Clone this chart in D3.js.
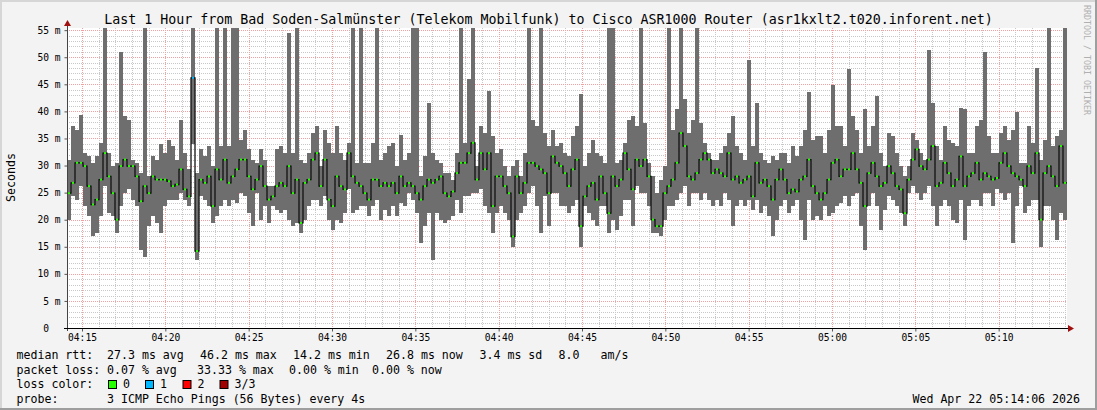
<!DOCTYPE html>
<html><head><meta charset="utf-8">
<script src="https://cdn.jsdelivr.net/npm/d3@7/dist/d3.min.js"></script>
<style>
body{margin:0;background:#f3f3f3;}
svg{display:block;}
text{font-family:"DejaVu Sans Mono",monospace;fill:#000;}
</style>
</head><body>
<svg id="chart" width="1097" height="410"></svg>
<script>
// ---------------- data ----------------
const titleText = "Last 1 Hour from Bad Soden-Salmünster (Telekom Mobilfunk) to Cisco ASR1000 Router (asr1kxlt2.t020.inforent.net)";
const yAxisTitle = "Seconds";
const sideText = "RRDTOOL / TOBI OETIKER";
const startTime = new Date(2026, 3, 22, 4, 14, 6);
const endTime = new Date(2026, 3, 22, 5, 14, 6);
const stepSeconds = 14.4;
const yMax = 55.4;

const yTicks = [0, 5, 10, 15, 20, 25, 30, 35, 40, 45, 50, 55];
const yTickLabels = ["0  ", "5 m", "10 m", "15 m", "20 m", "25 m", "30 m", "35 m", "40 m", "45 m", "50 m", "55 m"];
const xTickLabels = ["04:15", "04:20", "04:25", "04:30", "04:35", "04:40", "04:45", "04:50", "04:55", "05:00", "05:05", "05:10"];

// smoke upper edge (max ping, ms)
const smokeHigh = [
31.1,37.3,36.6,39.4,32.3,31.7,30.5,31.7,34.2,60,
32.3,29.9,30.5,50.9,39.1,38.5,31.1,30.5,28.6,60,
28.0,31.7,31.1,33.9,32.3,34.8,33.6,31.1,38.5,32.3,
29.3,60,28.6,33.0,31.7,33.6,29.9,60,33.6,60,
33.6,60,60,34.8,36.6,33.0,31.1,30.5,33.0,31.1,
26.2,26.2,33.0,33.6,32.3,54.5,32.3,60,31.1,30.5,
32.3,36.0,37.3,29.9,
36.6,34.2,32.3,37.3,32.3,31.1,34.2,60,30.5,60,
30.5,30.5,34.2,60,31.1,32.3,33.6,34.2,29.9,35.7,
31.1,32.3,60,60,28.0,31.7,41.6,32.3,31.1,30.5,
28.6,28.6,27.4,32.3,60,34.2,45.9,60,29.9,37.3,
36.0,43.8,35.4,32.3,33.0,29.9,28.0,29.9,31.1,28.0,
32.3,60,38.5,37.3,60,36.0,33.6,36.6,33.6,34.2,
32.3,31.7,
35.4,37.3,43.3,29.9,32.3,34.8,32.3,31.7,30.5,60,
60,30.5,31.1,34.2,38.5,39.1,37.3,60,37.9,30.5,
28.0,24.9,27.4,29.9,60,36.6,40.4,60,42.2,36.0,
38.5,60,37.9,34.2,32.3,31.1,31.1,32.3,33.6,36.0,
39.1,33.6,32.3,31.1,49.5,33.6,41.6,32.3,31.1,30.5,
31.7,31.1,32.3,32.3,30.5,33.6,31.7,33.6,36.6,43.5,
34.8,35.4,
35.4,32.3,36.6,44.9,37.3,37.3,33.6,47.8,39.1,36.6,
32.3,40.4,33.6,37.3,42.8,32.3,29.9,36.0,35.4,32.3,
29.9,28.0,29.9,36.0,34.8,32.3,31.1,51.3,41.6,33.6,
31.1,37.3,34.8,34.2,33.6,40.7,40.4,32.3,32.3,37.3,
38.5,50.9,35.4,32.3,32.3,36.0,37.3,34.8,36.6,39.8,
30.5,30.5,37.3,34.2,48.1,31.1,34.8,60,33.6,35.4,
36.6,60
];

// smoke lower edge (min ping, ms)
const smokeLow = [
20.0,24.3,23.7,26.2,22.5,20.6,16.9,17.5,20.6,26.2,
21.2,20.6,17.5,22.5,24.9,25.6,23.7,22.5,14.4,13.2,
18.8,20.6,19.4,17.5,22.5,23.7,23.7,23.7,24.9,23.7,
22.5,34.0,12.6,24.3,23.7,22.5,19.4,20.6,22.5,23.7,
22.5,23.7,23.1,24.9,24.3,21.2,18.8,24.9,20.0,22.5,
19.4,22.5,21.8,21.2,21.8,20.0,18.8,19.4,17.5,20.0,
22.5,23.7,23.7,22.5,
24.3,20.0,18.1,20.0,19.4,21.2,25.6,21.2,21.8,22.5,
22.5,20.6,22.5,23.7,20.0,21.8,20.6,22.5,20.6,23.1,
22.5,24.9,23.7,21.2,15.7,18.8,21.2,12.6,21.2,20.0,
19.4,20.0,20.6,23.7,21.2,24.3,24.3,24.9,24.9,25.6,
22.5,21.2,17.5,21.2,22.5,21.2,20.0,15.0,20.0,21.2,
22.5,24.9,26.2,22.5,17.5,24.3,18.8,24.9,24.9,22.5,
22.5,21.2,
22.5,23.7,15.0,22.5,21.2,20.0,18.8,22.5,22.5,17.5,
20.0,18.1,20.6,23.7,23.7,18.8,26.2,24.9,24.9,22.5,
17.5,17.5,16.9,20.0,22.5,22.5,23.7,24.9,26.2,22.5,
24.9,24.9,23.7,24.9,23.7,22.5,23.7,22.5,24.9,23.7,
18.8,22.5,23.7,22.5,23.7,21.8,23.7,21.2,22.5,20.6,
16.9,20.0,22.5,23.7,21.2,22.5,23.7,20.0,16.3,23.7,
20.0,20.6,
20.0,22.5,20.6,21.2,22.5,23.1,24.3,22.5,24.3,24.9,
18.8,14.4,22.5,24.9,22.5,18.1,21.8,24.3,23.7,22.5,
21.2,18.8,24.9,26.2,24.9,23.7,24.9,26.2,22.5,18.8,
22.5,23.7,22.5,20.0,19.4,23.7,16.3,22.5,23.7,23.7,
22.5,24.9,24.9,22.5,25.6,24.9,23.7,24.9,15.7,22.5,
26.2,21.2,22.5,23.7,23.7,15.0,22.5,22.5,20.0,16.3,
21.2,20.0
];

// median rtt (ms)
const medianRtt = [
24.9,26.8,30.5,30.5,29.9,26.2,22.8,23.7,27.4,32.3,
28.0,24.9,20.0,29.9,31.1,29.9,29.9,28.0,23.4,26.2,
24.9,28.0,27.4,27.4,27.4,27.1,26.2,26.5,29.3,25.6,
24.3,46.2,14.2,27.4,26.8,28.0,22.5,29.3,27.4,31.1,
26.8,28.0,29.3,31.1,31.1,28.0,25.6,27.4,29.9,26.2,
23.7,24.3,26.2,26.8,26.2,29.9,24.9,27.4,19.4,26.8,
27.4,31.1,32.3,26.2,
31.1,23.7,22.5,28.0,26.2,25.6,32.3,28.0,26.8,26.2,
24.9,23.7,27.4,27.4,26.2,26.8,26.2,26.8,24.9,28.0,
26.2,26.8,26.2,24.9,23.7,26.2,27.4,26.8,27.4,28.0,
24.9,24.3,25.2,28.6,30.5,30.5,32.3,34.2,27.4,32.3,
29.3,32.3,22.5,28.0,28.0,26.2,24.9,16.9,28.0,24.9,
26.8,30.5,30.5,29.9,29.3,28.6,24.9,31.7,30.5,29.9,
28.6,26.2,
29.3,31.1,18.8,24.3,26.2,26.8,23.7,28.0,24.9,21.2,
28.0,26.2,27.4,32.3,29.3,25.6,31.1,29.9,31.1,28.0,
20.0,18.8,18.8,24.9,26.2,27.4,30.5,36.0,33.6,28.0,
27.4,28.6,31.1,32.3,31.1,28.6,29.3,28.6,28.0,32.3,
27.4,28.0,26.8,27.4,28.0,24.3,30.5,26.8,27.4,26.2,
23.7,27.4,29.3,27.4,24.9,25.6,25.2,27.4,28.0,31.1,
26.2,24.9,
23.7,24.9,27.4,30.5,31.1,28.0,29.3,29.3,32.3,29.3,
26.8,22.5,28.6,30.5,28.0,26.2,26.8,29.9,28.6,26.2,
25.6,21.2,27.4,31.1,33.0,29.9,29.3,31.1,33.6,26.2,
26.8,30.5,28.6,26.2,27.4,31.7,26.2,28.0,28.6,30.5,
27.4,28.6,28.0,27.4,27.7,30.5,32.3,29.9,28.6,28.0,
27.4,26.2,29.9,28.6,32.3,20.0,28.6,29.9,28.0,26.2,
33.6,26.8
];

// samples with packet loss (index into the series) and number of lost pings
const lossIndex = [31];
const lossPings = [1];

const lossColors = ["#26ff00", "#00b8ff", "#ff0000", "#a10000"];
const lossLabels = ["0", "1", "2", "3/3"];

const legendMedian = [["median rtt:", 16.5], ["27.3 ms avg", 107], ["46.2 ms max", 200], ["14.2 ms min", 293], ["26.8 ms now", 386], ["3.4 ms sd", 479.5], ["8.0", 558.5], ["am/s", 600.5]];
const legendLoss = [["packet loss:", 16.5], ["0.07 % avg", 107], ["33.33 % max", 197], ["0.00 % min", 289], ["0.00 % now", 372]];
const legendProbe = [["probe:", 16.5], ["3 ICMP Echo Pings (56 Bytes) every 4s", 107]];
const timestampText = "Wed Apr 22 05:14:06 2026";

// ---------------- drawing ----------------
const W = 1097, H = 410;
const plot = {left: 67, right: 1067, top: 28, bottom: 328};
const svg = d3.select("#chart");

// background and 3D frame
svg.append("rect").attr("x", 0).attr("y", 0).attr("width", W).attr("height", H).attr("fill", "#f3f3f3");
svg.append("rect").attr("x", 0).attr("y", 0).attr("width", W).attr("height", 2).attr("fill", "#d6d6d6");
svg.append("rect").attr("x", 0).attr("y", 0).attr("width", 2).attr("height", H).attr("fill", "#d6d6d6");
svg.append("rect").attr("x", 0).attr("y", H - 2).attr("width", W).attr("height", 2).attr("fill", "#9e9e9e");
svg.append("rect").attr("x", W - 2).attr("y", 0).attr("width", 2).attr("height", H).attr("fill", "#9e9e9e");

// canvas
svg.append("rect").attr("x", plot.left).attr("y", plot.top).attr("width", plot.right - plot.left).attr("height", plot.bottom - plot.top).attr("fill", "#ffffff");

const x = d3.scaleTime().domain([startTime, endTime]).range([plot.left, plot.right]);
const y = d3.scaleLinear().domain([0, yMax]).range([plot.bottom, plot.top]);

const parseHM = s => { const [h, m] = s.split(":").map(Number); return new Date(2026, 3, 22, h, m, 0); };
const xMajor = xTickLabels.map(parseHM);
const xMinor = d3.timeMinute.range(startTime, endTime).filter(d => d.getMinutes() % 5 !== 0);
const yMinor = d3.range(1, 56).filter(v => v % 5 !== 0);

const grid = svg.append("g");
grid.selectAll("line.ymin").data(yMinor).join("line")
  .attr("x1", plot.left).attr("x2", plot.right)
  .attr("y1", d => Math.round(y(d)) + 0.5).attr("y2", d => Math.round(y(d)) + 0.5)
  .attr("stroke", "#c8c8c8").attr("stroke-width", 1).attr("stroke-dasharray", "1,1");
grid.selectAll("line.xmin").data(xMinor).join("line")
  .attr("x1", d => Math.round(x(d)) + 0.5).attr("x2", d => Math.round(x(d)) + 0.5)
  .attr("y1", plot.top).attr("y2", plot.bottom)
  .attr("stroke", "#c8c8c8").attr("stroke-width", 1).attr("stroke-dasharray", "1,1");
grid.selectAll("line.ymaj").data(yTicks.slice(1)).join("line")
  .attr("x1", plot.left).attr("x2", plot.right)
  .attr("y1", d => Math.round(y(d)) + 0.5).attr("y2", d => Math.round(y(d)) + 0.5)
  .attr("stroke", "#f0a0a0").attr("stroke-width", 1).attr("stroke-dasharray", "1,1");
grid.selectAll("line.xmaj").data(xMajor).join("line")
  .attr("x1", d => Math.round(x(d)) + 0.5).attr("x2", d => Math.round(x(d)) + 0.5)
  .attr("y1", plot.top).attr("y2", plot.bottom)
  .attr("stroke", "#f0a0a0").attr("stroke-width", 1).attr("stroke-dasharray", "1,1");

// data
svg.append("clipPath").attr("id", "clip").append("rect")
  .attr("x", plot.left).attr("y", plot.top).attr("width", plot.right - plot.left).attr("height", plot.bottom - plot.top);
const g = svg.append("g").attr("clip-path", "url(#clip)");

const samples = medianRtt.map((m, i) => {
  const t0 = new Date(startTime.getTime() + i * stepSeconds * 1000);
  const t1 = new Date(startTime.getTime() + (i + 1) * stepSeconds * 1000);
  const li = lossIndex.indexOf(i);
  return {i, t0, t1, lo: smokeLow[i], hi: smokeHigh[i], med: m, loss: li >= 0 ? lossPings[li] : 0};
});

g.selectAll("rect.smoke").data(samples).join("rect")
  .attr("x", d => x(d.t0)).attr("width", d => x(d.t1) - x(d.t0))
  .attr("y", d => y(d.hi)).attr("height", d => y(d.lo) - y(d.hi))
  .attr("fill", "#6e6e6e").attr("shape-rendering", "crispEdges");

const stepLine = d3.line().curve(d3.curveStepAfter).x(d => d[0]).y(d => d[1]);
const pts = samples.map(d => [x(d.t0), y(d.med)]);
pts.push([x(samples[samples.length - 1].t1), y(samples[samples.length - 1].med)]);
g.append("path").attr("d", stepLine(pts)).attr("fill", "none").attr("stroke", "#111").attr("stroke-width", 1.3);

g.selectAll("rect.med").data(samples).join("rect")
  .attr("x", d => (x(d.t0) + x(d.t1)) / 2 - 1).attr("width", 2)
  .attr("y", d => y(d.med) - 1).attr("height", 2)
  .attr("fill", d => lossColors[d.loss]);

// axes
const yAxis = d3.axisLeft(y).tickValues(yTicks).tickFormat((d, i) => yTickLabels[i]).tickSize(3).tickPadding(4);
const ya = svg.append("g").attr("transform", `translate(${plot.left + 0.5},0)`).call(yAxis);
ya.select(".domain").remove();
ya.selectAll(".tick line").attr("stroke", "#555");
ya.selectAll(".tick text").style("font-family", "DejaVu Sans Mono, monospace").style("font-size", "9.6px").style("white-space", "pre").attr("fill", "#000");

const xAxis = d3.axisBottom(x).tickValues(xMajor).tickFormat((d, i) => xTickLabels[i]).tickSize(3).tickPadding(3);
const xa = svg.append("g").attr("transform", `translate(0,${plot.bottom + 0.5})`).call(xAxis);
xa.select(".domain").remove();
xa.selectAll(".tick line").attr("stroke", "#555");
xa.selectAll(".tick text").style("font-family", "DejaVu Sans Mono, monospace").style("font-size", "9.6px").attr("fill", "#000");

// axis lines and arrows
svg.append("line").attr("x1", plot.left + 0.5).attr("x2", plot.left + 0.5).attr("y1", plot.bottom + 3).attr("y2", 24).attr("stroke", "#444");
svg.append("line").attr("x1", plot.left - 3).attr("x2", 1069).attr("y1", plot.bottom + 0.5).attr("y2", plot.bottom + 0.5).attr("stroke", "#000");
svg.append("path").attr("d", `M${plot.left - 3},${plot.top - 2} L${plot.left + 4},${plot.top - 2} L${plot.left + 0.5},${plot.top - 8} Z`).attr("fill", "#a01010");
svg.append("path").attr("d", `M1068,${plot.bottom - 3} L1068,${plot.bottom + 4} L1074,${plot.bottom + 0.5} Z`).attr("fill", "#a01010");

// title
svg.append("text").attr("x", W / 2).attr("y", 24).attr("text-anchor", "middle").style("font-size", "13.3px").text(titleText);

// y axis title
svg.append("text").attr("transform", "translate(14.5,177.5) rotate(-90)").attr("text-anchor", "middle").style("font-size", "11.6px").text(yAxisTitle);

// side text
svg.append("text").attr("transform", "translate(1084,5) rotate(90)").attr("text-anchor", "start").style("font-size", "8.3px").style("fill", "#b0b0b0").text(sideText);

// legend
const lg = svg.append("g").style("font-size", "11.6px");
const row = (items, yy) => items.forEach(([t, xx]) => lg.append("text").attr("x", xx).attr("y", yy).style("white-space", "pre").text(t));
row(legendMedian, 359);
row(legendLoss, 373.5);
row([["loss color:", 16.5]], 388);
const boxX = [108, 145, 182.5, 219.5];
lossLabels.forEach((lab, i) => {
  lg.append("rect").attr("x", boxX[i] + 0.5).attr("y", 380.5).attr("width", 8).attr("height", 8)
    .attr("fill", lossColors[i]).attr("stroke", "#000").attr("stroke-width", 1);
  lg.append("text").attr("x", boxX[i] + 15).attr("y", 388).text(lab);
});
row(legendProbe, 402.5);
lg.append("text").attr("x", 1080).attr("y", 402.5).attr("text-anchor", "end").text(timestampText);
</script>
</body></html>
